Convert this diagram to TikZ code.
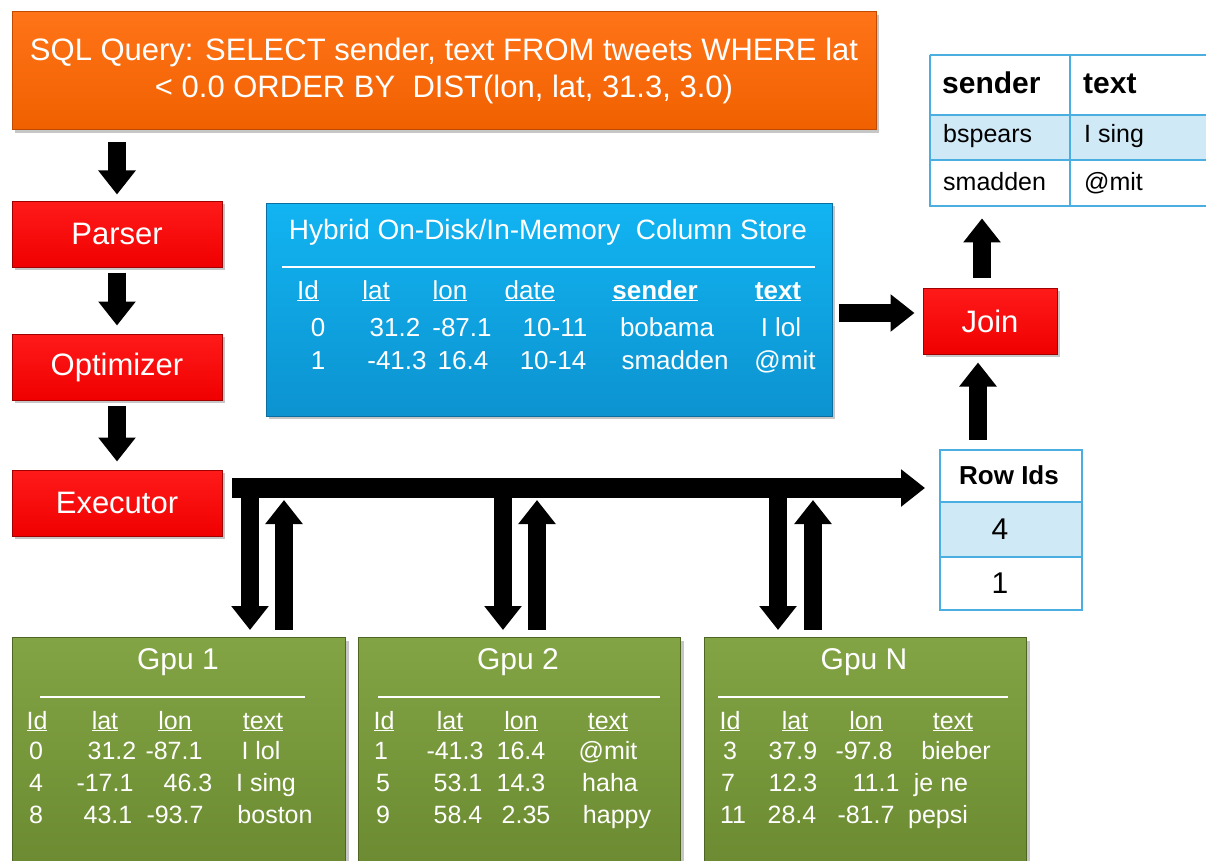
\documentclass[tikz,border=0pt]{standalone}
\usepackage{fontspec}
\setmainfont{Liberation Sans}
\usetikzlibrary{arrows.meta,shadows}
\definecolor{orngT}{HTML}{FF7418}
\definecolor{orngB}{HTML}{F06000}
\definecolor{orngD}{HTML}{C04A00}
\definecolor{redT}{HTML}{FF1A1A}
\definecolor{redB}{HTML}{F00000}
\definecolor{redD}{HTML}{A00000}
\definecolor{bluT}{HTML}{12B4F2}
\definecolor{bluB}{HTML}{0C93D0}
\definecolor{bluD}{HTML}{0A6FA0}
\definecolor{grnT}{HTML}{82A444}
\definecolor{grnB}{HTML}{6C8B32}
\definecolor{grnD}{HTML}{4E6624}
\definecolor{tblLine}{HTML}{4AAEE0}
\definecolor{tblFill}{HTML}{D0E9F6}
\newcommand{\fs}[1]{\fontsize{#1}{#1}\selectfont}
\begin{document}
\begin{tikzpicture}[x=1pt,y=-1pt,
  shade3d/.style={rectangle, inner sep=0pt, line width=1pt, text=white, align=center,
    drop shadow={opacity=0.45, shadow xshift=3pt, shadow yshift=-3pt}},
  sqlbox/.style={shade3d, top color=orngT, bottom color=orngB, draw=orngD},
  redbox/.style={shade3d, top color=redT, bottom color=redB, draw=redD,
    minimum width=210pt, minimum height=66pt, font=\fs{31}},
  blubox/.style={shade3d, top color=bluT, bottom color=bluB, draw=bluD},
  grnbox/.style={shade3d, top color=grnT, bottom color=grnB, draw=grnD,
    anchor=north west},
  blk/.style={line width=18pt, -{Triangle[width=36pt,length=24pt]}, black},
  cell/.style={text=white, inner sep=0pt, font=\fs{25}, text height=22pt, text depth=6pt},
  bcell/.style={text=white, inner sep=0pt, font=\fs{26}, text height=22pt, text depth=6pt},
  tcell/.style={text=black, inner sep=0pt, font=\fs{25}, text height=20pt, text depth=6pt},
  rule/.style={white, line width=1.2pt},
  tline/.style={tblLine, line width=1.3pt},
]
\useasboundingbox (0,0) rectangle (1206,861);

% ---------- SQL query box ----------
\node[sqlbox, minimum width=864pt, minimum height=118pt, font=\fs{31}] (sql) at (444,71)
  {SQL Query: SELECT sender, text FROM tweets WHERE lat\\[6pt]
   {<} 0.0 ORDER BY\ \ DIST(lon, lat, 31.3, 3.0)};

% ---------- pipeline ----------
\node[redbox] (parser) at (117,234) {Parser};
\node[redbox] (optim)  at (117,367) {Optimizer};
\node[redbox] (exec)   at (117,503) {Executor};

\draw[blk] ([yshift=-12pt]sql.south -| parser.north) -- ([yshift=6pt]parser.north);
\draw[blk] ([yshift=-5pt]parser.south) -- ([yshift=8pt]optim.north);
\draw[blk] ([yshift=-5pt]optim.south) -- ([yshift=8pt]exec.north);

% ---------- column store ----------
\node[blubox, minimum width=566pt, minimum height=213pt] (store) at (549,309.5) {};
\node[bcell, font=\fs{28}] (stitle) at (548,231) {Hybrid On-Disk/In-Memory\ \ Column Store};
\draw[rule] (282,267) -- (815,267);
\node[bcell] (sh1) at (308,291) {\underline{Id}};
\node[bcell] (sh2) at (376,291) {\underline{lat}};
\node[bcell] (sh3) at (450,291) {\underline{lon}};
\node[bcell] (sh4) at (530,291) {\underline{date}};
\node[bcell, font=\bfseries\fs{26}] (sh5) at (655,291) {\underline{sender}};
\node[bcell, font=\bfseries\fs{26}] (sh6) at (778,291) {\underline{text}};
\node[bcell] (s01) at (318,328) {0};
\node[bcell] (s02) at (395,328) {31.2};
\node[bcell] (s03) at (462,328) {-87.1};
\node[bcell] (s04) at (555,328) {10-11};
\node[bcell] (s05) at (667,328) {bobama};
\node[bcell] (s06) at (781,328) {I lol};
\node[bcell] (s11) at (318,361) {1};
\node[bcell] (s12) at (397,361) {-41.3};
\node[bcell] (s13) at (463,361) {16.4};
\node[bcell] (s14) at (553,361) {10-14};
\node[bcell] (s15) at (675,361) {smadden};
\node[bcell] (s16) at (785,361) {@mit};

% ---------- Join ----------
\node[redbox, minimum width=134pt] (join) at (990,321) {Join};
\coordinate (jy) at (0,313);
\draw[blk] ([xshift=6pt]store.east |- jy) -- ([xshift=-8pt]join.west |- jy);

% ---------- result table ----------
\node[minimum width=276pt, minimum height=151pt, inner sep=0pt, anchor=north west] (res) at (930,55) {};
\fill[tblFill] (930,115) rectangle (1206,160);
\draw[tline] (930,55) -- (1206,55);
\draw[tline] (930,55) -- (930,206) -- (1206,206);
\draw[tline] (930,160) -- (1206,160);
\draw[tblLine, line width=2.5pt] (930,115) -- (1206,115);
\draw[tline] (1070,55) -- (1070,206);
\node[tcell, font=\bfseries\fs{30}, text height=24pt, anchor=west] (rh1) at (942,85) {sender};
\node[tcell, font=\bfseries\fs{30}, text height=24pt, anchor=west] (rh2) at (1083,85) {text};
\node[tcell, anchor=west] (r11) at (943,136) {bspears};
\node[tcell, anchor=west] (r12) at (1084,136) {I sing};
\node[tcell, anchor=west] (r21) at (943,183) {smadden};
\node[tcell, anchor=west] (r22) at (1084,183) {@mit};
\coordinate (ux) at (982,0);
\draw[blk] ([yshift=10pt]join.north -| ux) -- ([yshift=-12pt]res.south -| ux);

% ---------- Row Ids ----------
\node[minimum width=142pt, minimum height=160pt, inner sep=0pt, anchor=north west] (rowids) at (940,450) {};
\fill[tblFill] (940,502) rectangle (1082,557);
\draw[tline] (940,450) rectangle (1082,610);
\draw[tline] (940,557) -- (1082,557);
\draw[tblLine, line width=2.5pt] (940,502) -- (1082,502);
\node[tcell, font=\bfseries\fs{26}] (ridh) at (1009,477) {Row Ids};
\node[tcell, font=\fs{30}, text height=24pt] (rid1) at (1000,530) {4};
\node[tcell, font=\fs{30}, text height=24pt] (rid2) at (1000,584) {1};
\coordinate (rx) at (978,0);
\draw[blk] ([yshift=10pt]rowids.north -| rx) -- ([yshift=-8pt]join.south -| rx);

% ---------- GPU boxes ----------
\node[grnbox, minimum width=333pt, minimum height=226pt] (gpu1) at (12,637) {};
\node[grnbox, minimum width=322pt, minimum height=226pt] (gpu2) at (358,637) {};
\node[grnbox, minimum width=322pt, minimum height=226pt] (gpu3) at (704,637) {};

% bus from executor
\coordinate (bus) at (232,488);
\draw[line width=20pt, -{Triangle[width=36pt,length=24pt]}] (bus) -- ([xshift=-15pt]rowids.west |- bus);
\foreach \dx/\ux/\g in {250/284/gpu1, 503/537/gpu2, 778/813/gpu3}{
  \coordinate (d) at (\dx,0);
  \coordinate (u) at (\ux,0);
  \draw[blk] (d |- bus) -- ([yshift=7pt]\g.north -| d);
  \draw[blk] ([yshift=7pt]\g.north -| u) -- ([yshift=-12pt]u |- bus);
}

% GPU 1 content
\node[cell, font=\fs{30}, text height=24pt, text depth=7pt] (g1t) at (178,661) {Gpu 1};
\draw[rule] (40,697) -- (305,697);
\node[cell] (g1h1) at (37,721) {\underline{Id}};
\node[cell] (g1h2) at (105,721) {\underline{lat}};
\node[cell] (g1h3) at (175,721) {\underline{lon}};
\node[cell] (g1h4) at (263,721) {\underline{text}};
\node[cell] (g1a1) at (36,751) {0};
\node[cell] (g1a2) at (112,751) {31.2};
\node[cell] (g1a3) at (174,751) {-87.1};
\node[cell] (g1a4) at (261,751) {I lol};
\node[cell] (g1b1) at (36,783) {4};
\node[cell] (g1b2) at (105,783) {-17.1};
\node[cell] (g1b3) at (188,783) {46.3};
\node[cell] (g1b4) at (266,783) {I sing};
\node[cell] (g1c1) at (36,815) {8};
\node[cell] (g1c2) at (108,815) {43.1};
\node[cell] (g1c3) at (175,815) {-93.7};
\node[cell] (g1c4) at (275,815) {boston};

% GPU 2 content
\node[cell, font=\fs{30}, text height=24pt, text depth=7pt] (g2t) at (518,661) {Gpu 2};
\draw[rule] (378,697) -- (660,697);
\node[cell] (g2h1) at (384,721) {\underline{Id}};
\node[cell] (g2h2) at (450,721) {\underline{lat}};
\node[cell] (g2h3) at (521,721) {\underline{lon}};
\node[cell] (g2h4) at (608,721) {\underline{text}};
\node[cell] (g2a1) at (381,751) {1};
\node[cell] (g2a2) at (455,751) {-41.3};
\node[cell] (g2a3) at (521,751) {16.4};
\node[cell] (g2a4) at (608,751) {@mit};
\node[cell] (g2b1) at (383,783) {5};
\node[cell] (g2b2) at (458,783) {53.1};
\node[cell] (g2b3) at (521,783) {14.3};
\node[cell] (g2b4) at (610,783) {haha};
\node[cell] (g2c1) at (383,815) {9};
\node[cell] (g2c2) at (458,815) {58.4};
\node[cell] (g2c3) at (526,815) {2.35};
\node[cell] (g2c4) at (617,815) {happy};

% GPU N content
\node[cell, font=\fs{30}, text height=24pt, text depth=7pt] (g3t) at (864,661) {Gpu N};
\draw[rule] (718,697) -- (1008,697);
\node[cell] (g3h1) at (730,721) {\underline{Id}};
\node[cell] (g3h2) at (795,721) {\underline{lat}};
\node[cell] (g3h3) at (866,721) {\underline{lon}};
\node[cell] (g3h4) at (953,721) {\underline{text}};
\node[cell] (g3a1) at (730,751) {3};
\node[cell] (g3a2) at (793,751) {37.9};
\node[cell] (g3a3) at (864,751) {-97.8};
\node[cell] (g3a4) at (956,751) {bieber};
\node[cell] (g3b1) at (728,783) {7};
\node[cell] (g3b2) at (793,783) {12.3};
\node[cell] (g3b3) at (876,783) {11.1};
\node[cell] (g3b4) at (941,783) {je ne};
\node[cell] (g3c1) at (733,815) {11};
\node[cell] (g3c2) at (792,815) {28.4};
\node[cell] (g3c3) at (866,815) {-81.7};
\node[cell] (g3c4) at (938,815) {pepsi};
\end{tikzpicture}
\end{document}
